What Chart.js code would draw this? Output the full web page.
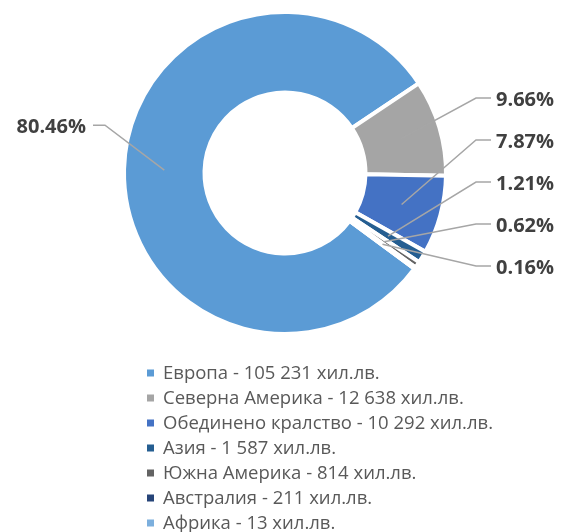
<!DOCTYPE html>
<html>
<head>
<meta charset="utf-8">
<script src="https://cdn.jsdelivr.net/npm/chart.js@4.4.0/dist/chart.umd.min.js"></script>
<style>
html, body { margin: 0; padding: 0; background: #fff; }
#wrap { width: 562px; height: 532px; }
</style>
</head>
<body>
<div id="wrap"><canvas id="myChart"></canvas></div>
<script>
var regions = ["Европа", "Северна Америка", "Обединено кралство", "Азия", "Южна Америка", "Австралия", "Африка"];
var amounts = [105231, 12638, 10292, 1587, 814, 211, 13];
var unit = "хил.лв.";
var colors = ["#5B9BD5", "#A5A5A5", "#4472C4", "#255E91", "#636363", "#264478", "#7CAFDD"];

var total = amounts.reduce(function(a, b){ return a + b; }, 0);

function fmt(n) {
    return String(n).replace(/\B(?=(\d{3})+(?!\d))/g, ' ');
}

// percentage labels with leader lines (tiny slices get none)
var pctLabels = {
    id: 'pctLabels',
    afterDatasetsDraw: function(chart) {
        var ctx = chart.ctx;
        var meta = chart.getDatasetMeta(0);
        var gap = 42;
        var right = [], left = [];
        meta.data.forEach(function(arc, i) {
            if (amounts[i] / total < 0.0005) return;
            var p = arc.getProps(['x', 'y', 'startAngle', 'endAngle', 'innerRadius', 'outerRadius'], true);
            var mid = (p.startAngle + p.endAngle) / 2;
            var rm = (p.innerRadius + p.outerRadius) / 2;
            var item = {
                text: (amounts[i] / total * 100).toFixed(2) + '%',
                ax: p.x + Math.cos(mid) * rm,
                ay: p.y + Math.sin(mid) * rm,
                want: p.y + Math.sin(mid) * p.outerRadius,
                cx: p.x,
                r: p.outerRadius
            };
            (Math.cos(mid) >= 0 ? right : left).push(item);
        });

        // stack right labels from the bottom up
        for (var k = right.length - 1; k >= 0; k--) {
            right[k].y = (k == right.length - 1) ? right[k].want : Math.min(right[k].want, right[k + 1].y - gap);
        }
        left.forEach(function(it) { it.y = it.want - gap; });

        ctx.save();
        ctx.strokeStyle = '#A6A6A6';
        ctx.lineWidth = 1.5;
        ctx.fillStyle = '#404040';
        ctx.font = "bold 20px 'Open Sans'";
        ctx.textBaseline = 'middle';

        right.forEach(function(it) {
            var lx = it.cx + it.r + 50;
            ctx.beginPath();
            ctx.moveTo(it.ax, it.ay);
            ctx.lineTo(lx - 20, it.y - 2);
            ctx.lineTo(lx - 5, it.y - 2);
            ctx.stroke();
            ctx.textAlign = 'left';
            ctx.fillText(it.text, lx, it.y);
        });
        left.forEach(function(it) {
            var lx = it.cx - it.r - 38;
            ctx.beginPath();
            ctx.moveTo(it.ax, it.ay);
            ctx.lineTo(lx + 19, it.y - 2);
            ctx.lineTo(lx + 7, it.y - 2);
            ctx.stroke();
            ctx.textAlign = 'right';
            ctx.fillText(it.text, lx, it.y);
        });
        ctx.restore();
    }
};

// one item per row legend below the doughnut
var listLegend = {
    id: 'listLegend',
    afterDraw: function(chart) {
        var ctx = chart.ctx;
        var x = 147;
        var y = chart.chartArea.bottom + 37;
        ctx.save();
        ctx.font = "18.5px 'Open Sans'";
        ctx.textBaseline = 'middle';
        ctx.textAlign = 'left';
        regions.forEach(function(name, i) {
            ctx.fillStyle = colors[i];
            ctx.fillRect(x, y + i * 25 - 3.5, 7, 7);
            ctx.fillStyle = '#595959';
            ctx.fillText(name + ' - ' + fmt(amounts[i]) + ' ' + unit, x + 16, y + i * 25 + 1);
        });
        ctx.restore();
    }
};

var ctx = document.getElementById("myChart");

var myDoughnutChart = new Chart(ctx, {
    type: 'doughnut',
    data: {
        labels: regions,
        datasets: [{
            data: amounts,
            backgroundColor: colors,
            borderColor: '#FFFFFF',
            borderWidth: 4
        }]
    },
    options: {
        responsive: true,
        maintainAspectRatio: false,
        animation: false,
        rotation: 126.5,
        cutout: '50%',
        layout: {
            padding: { left: 122, right: 114, top: 10, bottom: 196 }
        },
        plugins: {
            legend: { display: false },
            tooltip: { enabled: false }
        }
    },
    plugins: [pctLabels, listLegend]
});
</script>
</body>
</html>
